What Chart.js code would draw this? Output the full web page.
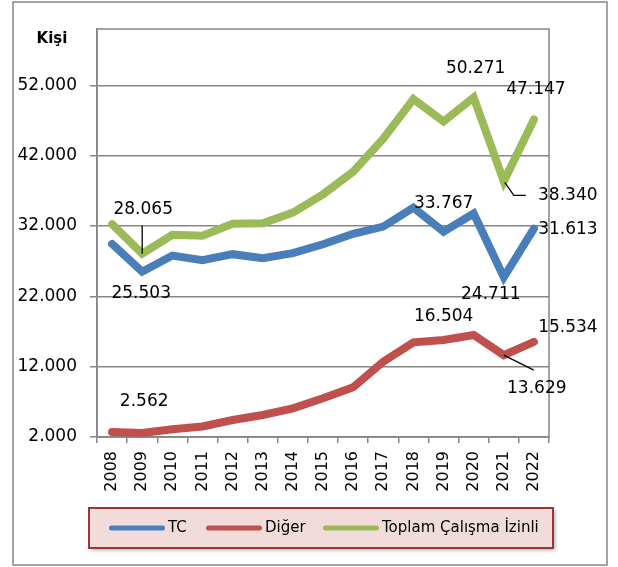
<!DOCTYPE html>
<html lang="tr">

<head>
    <meta charset="UTF-8">
    <meta name="viewport" content="width=device-width, initial-scale=1.0">
    <title>Çalışma İzinleri</title>
    <script src="https://cdn.jsdelivr.net/npm/chart.js"></script>
    <style>
        body {
            margin: 0;
            background: #ffffff;
        }

        .grafico {
            width: 618px;
            height: 567px;
        }
    </style>
</head>

<body>
    <div class="grafico">
        <canvas id="izinGrafico"></canvas>
    </div>

    <script>
        // degerler
        const anos = ['2008', '2009', '2010', '2011', '2012', '2013', '2014', '2015',
            '2016', '2017', '2018', '2019', '2020', '2021', '2022'];
        const tc = [29450, 25503, 27790, 27150, 27990, 27420, 28130, 29400,
            30880, 31920, 34600, 31200, 33767, 24711, 31613];
        const diger = [2700, 2562, 3100, 3500, 4420, 5130, 6080, 7500,
            9070, 12710, 15450, 15800, 16504, 13629, 15534];
        const toplam = [32250, 28065, 30750, 30600, 32300, 32400, 33900, 36500,
            39700, 44400, 50050, 46850, 50271, 38340, 47147];
        const yTicks = [2000, 12000, 22000, 32000, 42000, 52000];
        const seriler = ['TC', 'Diğer', 'Toplam Çalışma İzinli'];
        const renkler = ['#4a7ebb', '#c0504d', '#9bbb59'];

        // etiket yerleri (noktaya gore kayma) ve kilavuz cizgiler
        const rotulos = [
            { serie: 2, ano: 1, dx: 1, dy: -44, linha: [[0, -28], [0, 0]] },
            { serie: 0, ano: 1, dx: -1, dy: 22 },
            { serie: 1, ano: 1, dx: 2, dy: -31 },
            { serie: 0, ano: 12, dx: -30, dy: -10 },
            { serie: 2, ano: 12, dx: 2, dy: -29 },
            { serie: 2, ano: 14, dx: 2, dy: -30 },
            { serie: 2, ano: 13, dx: 64, dy: 14, linha: [[1, 1], [10, 14], [22, 14]] },
            { serie: 0, ano: 14, dx: 34, dy: 1 },
            { serie: 0, ano: 13, dx: -13, dy: 17 },
            { serie: 1, ano: 12, dx: -30, dy: -18 },
            { serie: 1, ano: 14, dx: 34, dy: -14 },
            { serie: 1, ano: 13, dx: 33, dy: 33, linha: [[0, 0], [30, 15]] }
        ];
        const legendaX = [109, 206, 323];

        const fonte = '"DejaVu Sans", sans-serif';
        const cinza = '#868686';

        function formatar(v) {
            return String(v).replace(/\B(?=(\d{3})+(?!\d))/g, '.');
        }

        const molduraPlugin = {
            id: 'moldura',
            beforeDraw(chart) {
                const ctx = chart.ctx;
                ctx.save();
                ctx.fillStyle = '#ffffff';
                ctx.fillRect(0, 0, chart.width, chart.height);
                ctx.strokeStyle = cinza;
                ctx.lineWidth = 1.5;
                ctx.strokeRect(13, 2, 594, 563);
                ctx.restore();
            },
            beforeDatasetsDraw(chart) {
                const a = chart.chartArea;
                const ctx = chart.ctx;
                ctx.save();
                ctx.strokeStyle = cinza;
                ctx.lineWidth = 1.5;
                ctx.strokeRect(a.left, a.top, a.right - a.left, a.bottom - a.top);
                ctx.restore();
            },
            afterDatasetsDraw(chart) {
                const ctx = chart.ctx;
                ctx.save();
                ctx.font = '17px ' + fonte;
                ctx.fillStyle = '#000000';
                ctx.strokeStyle = '#000000';
                ctx.lineWidth = 1.3;
                ctx.textAlign = 'center';
                ctx.textBaseline = 'middle';
                rotulos.forEach(function (r) {
                    const pt = chart.getDatasetMeta(r.serie).data[r.ano];
                    const valor = chart.data.datasets[r.serie].data[r.ano];
                    if (r.linha) {
                        ctx.beginPath();
                        r.linha.forEach(function (p, i) {
                            if (i == 0) ctx.moveTo(pt.x + p[0], pt.y + p[1]);
                            else ctx.lineTo(pt.x + p[0], pt.y + p[1]);
                        });
                        ctx.stroke();
                    }
                    ctx.fillText(formatar(valor), pt.x + r.dx, pt.y + r.dy);
                });
                ctx.restore();
            },
            afterDraw(chart) {
                const ctx = chart.ctx;
                ctx.save();

                // eksen basligi
                ctx.font = 'bold 15px ' + fonte;
                ctx.fillStyle = '#000000';
                ctx.textAlign = 'center';
                ctx.textBaseline = 'middle';
                ctx.fillText('Kişi', 52, 39);

                // lejant kutusu
                ctx.shadowColor = 'rgba(0, 0, 0, 0.35)';
                ctx.shadowBlur = 4;
                ctx.shadowOffsetX = 2;
                ctx.shadowOffsetY = 2;
                ctx.fillStyle = '#f2dcdb';
                ctx.fillRect(89, 508, 464, 40);
                ctx.shadowColor = 'transparent';
                ctx.strokeStyle = '#953735';
                ctx.lineWidth = 2;
                ctx.strokeRect(89, 508, 464, 40);

                ctx.font = '15px ' + fonte;
                ctx.textAlign = 'left';
                ctx.lineCap = 'round';
                ctx.lineWidth = 5;
                chart.data.datasets.forEach(function (ds, i) {
                    const x = legendaX[i];
                    ctx.strokeStyle = ds.borderColor;
                    ctx.beginPath();
                    ctx.moveTo(x + 2.5, 528);
                    ctx.lineTo(x + 53.5, 528);
                    ctx.stroke();
                    ctx.fillStyle = '#000000';
                    ctx.fillText(ds.label, x + 59, 528);
                });
                ctx.restore();
            }
        };

        const grafico = document.getElementById('izinGrafico');

        var izinGrafico = new Chart(grafico, {
            type: 'line',
            data: {
                labels: anos,
                datasets: [
                    { label: seriler[0], data: tc, borderColor: renkler[0], backgroundColor: renkler[0] },
                    { label: seriler[1], data: diger, borderColor: renkler[1], backgroundColor: renkler[1] },
                    { label: seriler[2], data: toplam, borderColor: renkler[2], backgroundColor: renkler[2] }
                ]
            },
            options: {
                responsive: true,
                maintainAspectRatio: false,
                animation: false,
                elements: {
                    line: {
                        borderWidth: 8,
                        tension: 0,
                        borderJoinStyle: 'miter',
                        borderCapStyle: 'round'
                    },
                    point: { radius: 0, hoverRadius: 0 }
                },
                layout: {
                    padding: { left: 0, top: 29, right: 69, bottom: 60 }
                },
                scales: {
                    x: {
                        offset: true,
                        grid: {
                            offset: true,
                            drawOnChartArea: false,
                            color: cinza,
                            lineWidth: 1.5,
                            tickLength: 6
                        },
                        border: { color: cinza, width: 1.5 },
                        ticks: {
                            minRotation: 90,
                            maxRotation: 90,
                            autoSkip: false,
                            padding: 8,
                            color: '#000000',
                            font: { family: fonte, size: 16 }
                        },
                        afterFit: function (scale) {
                            scale.height = 70;
                        }
                    },
                    y: {
                        min: 2000,
                        max: 60000,
                        grid: {
                            color: cinza,
                            lineWidth: 1.5,
                            tickLength: 7
                        },
                        border: { color: cinza, width: 1.5 },
                        ticks: {
                            padding: 13,
                            color: '#000000',
                            font: { family: fonte, size: 17 },
                            callback: function (v) {
                                return formatar(v);
                            }
                        },
                        afterBuildTicks: function (scale) {
                            scale.ticks = yTicks.map(function (v) {
                                return { value: v };
                            });
                        },
                        afterFit: function (scale) {
                            scale.width = 97;
                        }
                    }
                },
                plugins: {
                    legend: { display: false },
                    tooltip: { enabled: false }
                }
            },
            plugins: [molduraPlugin]
        });
    </script>
</body>

</html>
